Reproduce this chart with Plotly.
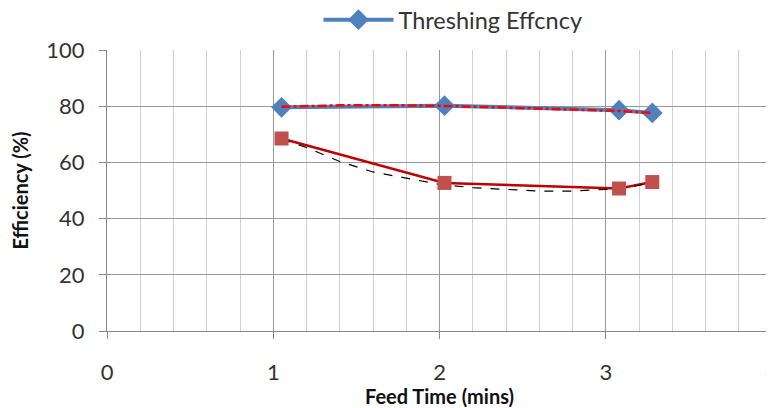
import plotly.graph_objects as go

feed_time = [1.05, 2.03, 3.08, 3.28]
threshing_eff = [79.6, 80.2, 78.6, 77.6]
other_eff = [68.5, 52.7, 50.7, 53.0]

trend_blue_x = [1.05, 1.4, 1.8, 2.03, 2.4, 2.8, 3.08, 3.28]
trend_blue_y = [79.8, 80.3, 80.3, 80.1, 79.5, 78.9, 78.3, 77.6]

trend_red_x = [1.05, 1.2, 1.4, 1.6, 1.8, 2.0, 2.2, 2.4, 2.6, 2.8, 3.0, 3.1, 3.28]
trend_red_y = [68.3, 65.3, 60.3, 56.6, 54.4, 52.2, 51.0, 50.3, 49.8, 49.8, 50.3, 50.7, 52.8]

font = "Lato"
fig = go.Figure()
fig.add_trace(go.Scatter(x=feed_time, y=threshing_eff, mode="lines+markers",
                         name="Threshing Effcncy",
                         line=dict(color="#4f81bd", width=4),
                         marker=dict(symbol="diamond", size=16, color="#4f81bd")))
fig.add_trace(go.Scatter(x=trend_blue_x, y=trend_blue_y, mode="lines", showlegend=False,
                         line=dict(color="#ff0000", width=2.5, dash="dashdot")))
fig.add_trace(go.Scatter(x=feed_time, y=other_eff, mode="lines", showlegend=False,
                         line=dict(color="#c00000", width=2.5)))
fig.add_trace(go.Scatter(x=trend_red_x, y=trend_red_y, mode="lines", showlegend=False,
                         line=dict(color="#000000", width=1.2, dash="dash")))
fig.add_trace(go.Scatter(x=feed_time, y=other_eff, mode="markers", showlegend=False,
                         marker=dict(symbol="square", size=14, color="#c0504d")))

fig.update_layout(
    width=766, height=400,
    margin=dict(l=99, r=2, t=42, b=77, autoexpand=False),
    paper_bgcolor="white", plot_bgcolor="white",
    font=dict(family=font, color="#222", size=22),
    legend=dict(x=0.318, y=1.107, xanchor="left", yanchor="middle",
                orientation="h", itemwidth=70, font=dict(size=23.5, color="#333"),
                bgcolor="rgba(0,0,0,0)"),
    showlegend=True,
)
fig.update_xaxes(range=[0, 4], dtick=1, tick0=0, showgrid=True, gridcolor="#999999",
                 gridwidth=1, zeroline=False, showline=True, linecolor="#888888",
                 ticks="outside", ticklen=7, tickcolor="#888888", automargin=False,
                 ticklabelstandoff=15, ticklabeloverflow="allow",
                 tickfont=dict(size=22, color="#333"),
                 minor=dict(dtick=0.2, showgrid=True, gridcolor="#d0d0d0", gridwidth=1),
                 title=dict(text="<b>Feed Time (mins)</b>", font=dict(size=20, color="#111"),
                            standoff=0))
fig.update_yaxes(range=[0, 100], dtick=20, showgrid=True, gridcolor="#999999",
                 zeroline=False, showline=True, linecolor="#888888", automargin=False,
                 ticks="outside", ticklen=7, tickcolor="#888888", ticklabelstandoff=10,
                 tickfont=dict(size=22, color="#333"),
                 title=dict(text="<b>Efficiency (%)</b>", font=dict(size=20, color="#111"),
                            standoff=15))
fig.write_html("out.html")
